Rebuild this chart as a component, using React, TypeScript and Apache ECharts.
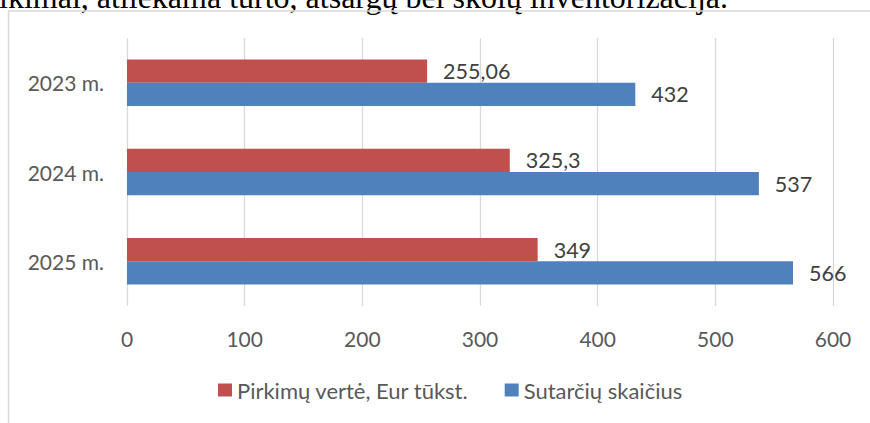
import React, { useEffect, useRef } from "react";
import * as echarts from "echarts";

const categories = ["2023 m.", "2024 m.", "2025 m."];
const purchaseValue = [255.06, 325.3, 349];
const contractCount = [432, 537, 566];
const seriesNames = ["Pirkimų vertė, Eur tūkst.", "Sutarčių skaičius"];
const xTicks = { min: 0, max: 600, interval: 100 };
const headingText = "ikimai, atliekama turto, atsargų bei skolų inventorizacija.";

const FONT = "Lato";

export default function App() {
  const ref = useRef<HTMLDivElement>(null);
  useEffect(() => {
    if (!ref.current) return;
    const chart = echarts.init(ref.current, undefined, { renderer: "svg" });
    const fmt = (p: any) => String(p.value).replace(".", ",");
    const label = {
      show: true,
      position: "right",
      distance: 16,
      color: "#404040",
      fontSize: 21.5,
      fontFamily: FONT,
      formatter: fmt,
    };
    chart.setOption({
      animation: false,
      backgroundColor: "#ffffff",
      grid: { left: 127, right: 37, top: 38, bottom: 117 },
      xAxis: {
        type: "value",
        min: xTicks.min,
        max: xTicks.max,
        interval: xTicks.interval,
        axisLine: { show: false },
        axisTick: { show: false },
        axisLabel: { color: "#595959", fontSize: 21, fontFamily: FONT, margin: 22 },
        splitLine: { show: true, lineStyle: { color: "#d9d9d9", width: 1.3 } },
      },
      yAxis: {
        type: "category",
        inverse: true,
        data: categories,
        axisLine: { show: false },
        axisTick: { show: false },
        axisLabel: { color: "#595959", fontSize: 21, fontFamily: FONT, margin: 23 },
      },
      legend: {
        left: 213,
        top: 374,
        itemWidth: 14,
        itemHeight: 13,
        itemGap: 36,
        icon: "rect",
        textStyle: { color: "#595959", fontSize: 22, fontFamily: FONT },
        data: seriesNames,
      },
      series: [
        {
          name: seriesNames[0],
          type: "bar",
          data: purchaseValue,
          barGap: "0%",
          barCategoryGap: "48%",
          itemStyle: { color: "#C0504D" },
          label,
        },
        {
          name: seriesNames[1],
          type: "bar",
          data: contractCount,
          barGap: "0%",
          barCategoryGap: "48%",
          itemStyle: { color: "#4F81BD" },
          label,
        },
      ],
      graphic: [
        {
          type: "text",
          x: -1,
          y: -3,
          silent: true,
          style: {
            text: headingText,
            fill: "#000000",
            fontFamily: "Liberation Serif",
            fontSize: 32,
            align: "left",
            verticalAlign: "middle",
          },
        },
        {
          type: "line",
          silent: true,
          shape: { x1: 8, y1: 11, x2: 870, y2: 11 },
          style: { stroke: "#d9d9d9", lineWidth: 1.5 },
        },
        {
          type: "line",
          silent: true,
          shape: { x1: 8.5, y1: 10.5, x2: 8.5, y2: 423 },
          style: { stroke: "#d9d9d9", lineWidth: 1.5 },
        },
      ],
    });
    return () => chart.dispose();
  }, []);
  return (
    <div
      ref={ref}
      style={{ position: "fixed", left: 0, top: 0, width: 870, height: 423 }}
    />
  );
}
